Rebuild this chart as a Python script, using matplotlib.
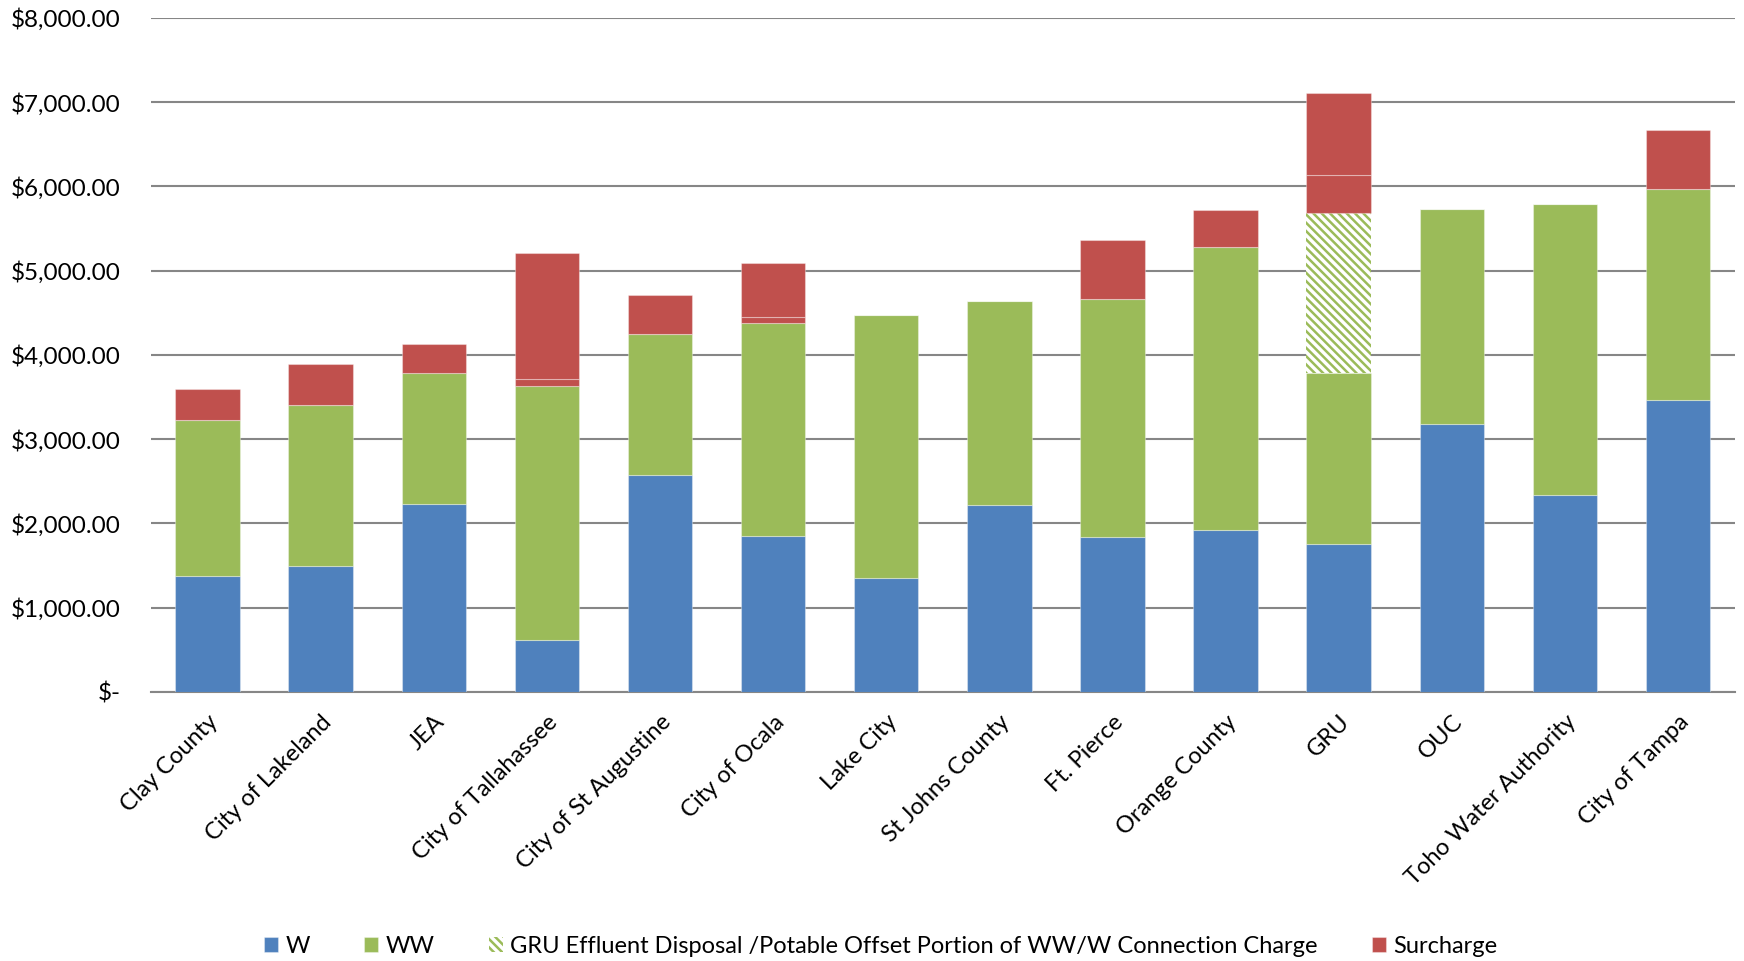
import matplotlib.pyplot as plt
import numpy as np

plt.rcParams['font.family'] = ['Lato', 'DejaVu Sans']

utilities = ["Clay County", "City of Lakeland", "JEA", "City of Tallahassee",
             "City of St Augustine", "City of Ocala", "Lake City", "St Johns County",
             "Ft. Pierce", "Orange County", "GRU", "OUC", "Toho Water Authority",
             "City of Tampa"]

# connection charge components ($)
w = [1373, 1492, 2231, 620, 2574, 1848, 1347, 2218, 1835, 1927, 1756, 3181, 2337, 3459]
ww = [1848, 1914, 1558, 3008, 1677, 2534, 3128, 2416, 2825, 3353, 2033, 2548, 3458, 2508]
gru_effluent = [0, 0, 0, 0, 0, 0, 0, 0, 0, 0, 1898, 0, 0, 0]
surcharge_a = [0, 0, -20, 82, 0, 72, 0, 0, 0, 0, 443, 0, 0, 0]
surcharge_b = [369, 488, 337, 1500, 462, 632, 0, 0, 700, 436, 981, 0, 0, 700]

c_w = "#4F81BD"
c_ww = "#9BBB59"
c_s = "#C0504D"
edge = (1, 1, 1, 0.35)

fig = plt.figure(figsize=(17.44, 9.61), dpi=100)
ax = fig.add_axes([0.0866, 0.28, 0.908, 0.7015])

x = np.arange(len(utilities))
bw = 0.57
w_a = np.array(w)
ww_a = np.array(ww)
eff_a = np.array(gru_effluent)
sa = np.array(surcharge_a)
sb = np.array(surcharge_b)

ax.bar(x, w_a, bw, color=c_w, edgecolor=edge, linewidth=0.8, label="W", zorder=3)
ax.bar(x, ww_a, bw, bottom=w_a, color=c_ww, edgecolor=edge, linewidth=0.8, label="WW", zorder=3)
plt.rcParams['hatch.linewidth'] = 1.8
ax.bar(x, eff_a, bw, bottom=w_a + ww_a, color="white", edgecolor=c_ww, hatch="\\" * 4,
       linewidth=0, label="GRU Effluent Disposal /Potable Offset Portion of WW/W Connection Charge",
       zorder=3)
# negative parts stack below zero
base_a = np.where(sa < 0, 0, w_a + ww_a + eff_a)
ax.bar(x, sa, bw, bottom=base_a, color=c_s, edgecolor=edge, linewidth=0.8, zorder=3)
ax.bar(x, sb, bw, bottom=w_a + ww_a + eff_a + np.clip(sa, 0, None), color=c_s,
       edgecolor=edge, linewidth=0.8, label="Surcharge", zorder=3)

ax.set_ylim(0, 8000)
ax.set_xlim(-0.5, len(utilities) - 0.5)
ticks = np.arange(0, 8001, 1000)
ax.set_yticks(ticks)
ax.set_yticklabels(["$-"] + ["${:,.2f}".format(t) for t in ticks[1:]], fontsize=17.5)
ax.yaxis.grid(True, color="#868686", linewidth=1.5, zorder=0)
ax.tick_params(axis='y', length=0, pad=22)
ax.tick_params(axis='x', length=0, pad=14)
ax.set_xticks(x)
ax.set_xticklabels(utilities, rotation=45, ha='right', rotation_mode='anchor', fontsize=17)
for s in ["top", "right", "left"]:
    ax.spines[s].set_visible(False)
ax.spines["bottom"].set_color("#868686")
ax.spines["bottom"].set_linewidth(1.5)

handles, labels = ax.get_legend_handles_labels()
fig.legend(handles, labels, loc='lower center', bbox_to_anchor=(0.505, -0.018), ncol=4,
           frameon=False, fontsize=17, handlelength=0.6, handleheight=0.6,
           handletextpad=0.3, columnspacing=2.3)

fig.savefig("out.png", dpi=100)
